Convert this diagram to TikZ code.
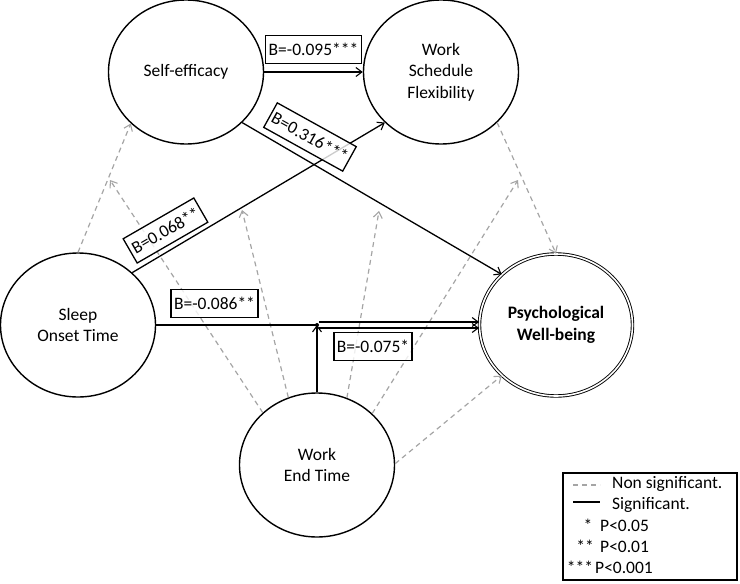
\documentclass[tikz,border=0pt]{standalone}
\usepackage{fontspec}
\setmainfont{Carlito}
\usetikzlibrary{shapes.geometric,arrows.meta}
\definecolor{nsgray}{RGB}{165,165,165}
\begin{document}
\begin{tikzpicture}[x=1pt,y=-1pt,
  var/.style={ellipse,draw,line width=1.4pt,minimum width=155pt,minimum height=144pt,inner sep=0pt,align=center,font=\fontsize{17.5}{21.5}\selectfont},
  dv/.style={var,double,double distance=1.6pt,line width=0.9pt,minimum width=153pt,minimum height=142pt,font=\fontsize{17.5}{21.5}\selectfont\bfseries},
  sig/.style={line width=1.3pt,black},
  ns/.style={line width=1.2pt,color=nsgray,dash pattern=on 5pt off 4pt},
  arr/.style={-{Straight Barb[length=6pt,width=9pt,line width=1.1pt]}},
  lbl/.style={draw,line width=1.3pt,fill=white,fill opacity=0.8,text opacity=1,inner xsep=3pt,inner ysep=0pt,minimum height=28pt,font=\fontsize{17.5}{21}\selectfont},
  leg/.style={inner sep=0pt,font=\fontsize{17.5}{21}\selectfont}
]
\useasboundingbox (0,0) rectangle (740,584);

% variables
\node[var] (se) at (186,72) {Self-efficacy};
\node[var] (wsf) at (441,72) {Work\\Schedule\\Flexibility};
\node[var] (sleep) at (78,325) {Sleep\\Onset Time};
\node[var] (wet) at (317,465) {Work\\End Time};
\node[dv] (pwb) at (556,325) {Psychological\\Well-being};

% helper coordinates
\coordinate (jn) at (317,325);
\coordinate (ju) at (319,322);
\coordinate (jl) at (319,328);
\coordinate (tb) at (110,180);
\coordinate (tc) at (242,210);
\coordinate (td) at (379,211);
\coordinate (te) at (518,180);

% non-significant paths
\draw[ns,arr] (sleep.north) -- (se.223);
\draw[ns,arr] (wet.136) -- (tb);
\draw[ns,arr] (wet.113) -- (tc);
\draw[ns,arr] (wet.66) -- (td);
\draw[ns,arr] (wet.43) -- (te);
\draw[ns,arr] (wet.1) -- (pwb.223);
\draw[ns,arr] (wsf.-42) -- (pwb.north);

% significant paths
\draw[sig,arr] (se) -- (wsf);
\draw[sig,arr] (se.-42) -- (pwb.137);
\draw[sig,arr] (sleep.44) -- (wsf.222);
\draw[sig] (sleep.east) -- (jn);
\draw[sig,arr] (wet.north) -- (jn);
\fill (jn) circle (2pt);
\draw[sig,arr] (ju) -- (ju -| pwb.west);
\draw[sig,arr] (jl) -- (jl -| pwb.west);

% labels
\node[lbl] (l1) at (313.5,49.5) {B=-0.095***};
\node[lbl,rotate=-29] (l2) at (310,137) {B=0.316***};
\node[lbl,rotate=30] (l3) at (165.5,230.5) {B=0.068**};
\node[lbl] (l4) at (214.5,303.5) {B=-0.086**};
\node[lbl] (l5) at (373,346.5) {B=-0.075*};

% legend
\node[draw,line width=1.4pt,minimum width=174pt,minimum height=107pt,inner sep=0pt] (legend) at (650,526.5) {};
\coordinate (d1) at (573,485);
\coordinate (d2) at (600,485);
\coordinate (s1) at (573,502);
\coordinate (s2) at (600,502);
\draw[ns] (d1) -- (d2);
\draw[sig] (s1) -- (s2);
\node[leg,anchor=base west] (t1) at (612,488) {Non significant.};
\node[leg,anchor=base west] (t2) at (612,509) {Significant.};
\node[leg,anchor=base] (st1) at (588,531) {*};
\node[leg,anchor=base west] (p1) at (600,531) {P<0.05};
\node[leg,anchor=base] (st2) at (585,552) {**};
\node[leg,anchor=base west] (p2) at (600,552) {P<0.01};
\node[leg,anchor=base] (st3) at (580,573) {***};
\node[leg,anchor=base west] (p3) at (595,573) {P<0.001};
\end{tikzpicture}
\end{document}
